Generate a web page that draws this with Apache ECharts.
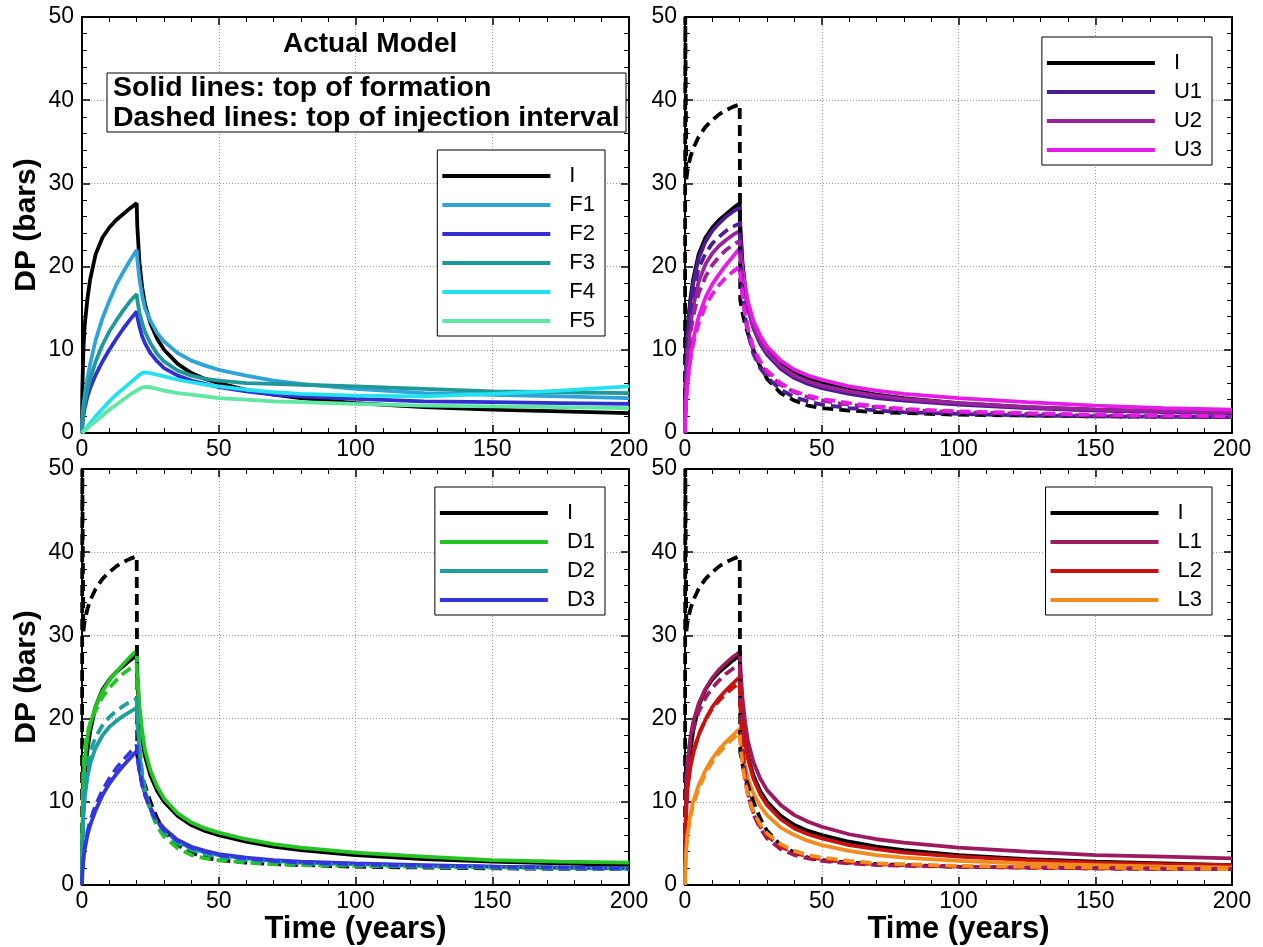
<!DOCTYPE html>
<html><head><meta charset="utf-8">
<script src="https://cdn.jsdelivr.net/npm/echarts@6/dist/echarts.min.js"></script>
<style>html,body{margin:0;padding:0;background:#fff}#c{width:1263px;height:947px}</style>
</head><body><div id="c"></div><script>
// time (years)
const T = [0,0.1,0.5,1,2,3,5,7.5,10,12.5,15,17.5,20,20.2,21,22,23,25,27.5,30,35,40,45,50,60,70,80,100,125,150,175,200];

const I_solid  = [0,5,10,13,16.2,18.5,21.5,23.5,24.7,25.6,26.3,27,27.6,25,20.5,17.5,15.5,13.2,11.3,10,8.3,7.2,6.5,6.0,5.2,4.6,4.2,3.6,3.1,2.8,2.6,2.4];
const I_dashed = [0,50,30.5,31.8,33.2,34.2,35.6,36.8,37.6,38.3,38.8,39.2,39.5,16,14.5,13,12,10,8.0,6.5,4.8,3.9,3.3,3.0,2.7,2.5,2.4,2.2,2.1,2.0,1.95,1.9];

const F1 = [0,1.5,3.2,4.5,6.6,8.3,11.2,13.8,15.9,17.8,19.3,20.7,22,21,18.5,16.5,15,13.5,12,11,9.6,8.7,8.1,7.6,6.9,6.3,5.9,5.3,4.8,4.6,4.4,4.2];
const F2 = [0,0.8,2,3,4.4,5.4,7.0,8.6,10,11.3,12.5,13.6,14.6,14,12.8,11.6,10.8,9.6,8.6,7.8,6.9,6.3,5.9,5.5,5.0,4.6,4.4,4.1,3.8,3.7,3.6,3.5];
const F3 = [0,1,2.5,3.6,5.2,6.5,8.6,10.6,12.2,13.5,14.7,15.8,16.7,16,14.5,13.2,12.2,10.8,9.5,8.6,7.5,6.9,6.5,6.3,6.0,5.9,5.8,5.6,5.3,5.0,4.9,4.8];
const F4 = [0,0.05,0.2,0.4,0.8,1.2,2.0,2.9,3.8,4.6,5.3,6.0,6.7,6.8,7.0,7.2,7.3,7.2,7.0,6.8,6.4,6.1,5.8,5.6,5.2,4.9,4.7,4.5,4.4,4.7,5.1,5.6];
const F5 = [0,0.03,0.15,0.3,0.6,0.9,1.4,2.1,2.8,3.4,4.0,4.6,5.1,5.15,5.3,5.45,5.55,5.5,5.3,5.1,4.8,4.6,4.4,4.2,4.0,3.8,3.7,3.5,3.3,3.2,3.1,3.0];

const U1_solid  = [0,4.5,9.5,12.5,15.8,18,21,23,24.3,25.2,26,26.6,27.1,24.5,20,17,15,12.6,10.7,9.4,7.7,6.6,5.9,5.4,4.7,4.2,3.9,3.4,3.0,2.7,2.5,2.4];
const U1_dashed = [0,4,9,12,15,17,19.8,21.6,22.8,23.6,24.3,24.8,25.2,22,17,14,12,9.5,7.8,6.7,5.2,4.3,3.8,3.4,3.0,2.7,2.5,2.3,2.1,2.0,1.95,1.9];
const U2_solid  = [0,3,7.5,10,13,15.2,18.2,20.3,21.6,22.5,23.2,23.8,24.3,22.5,19.5,17,15.2,12.8,11,9.7,8.0,6.9,6.2,5.7,5.0,4.5,4.1,3.6,3.1,2.8,2.6,2.5];
const U2_dashed = [0,2.5,6.5,9,12,14,16.8,18.8,20.2,21.2,22,22.6,23.1,21,17.5,14.5,12.5,10,8.3,7.2,5.8,4.9,4.3,3.9,3.4,3.1,2.8,2.5,2.3,2.1,2.0,1.95];
const U3_solid  = [0,1.5,4.5,6.5,9.2,11.2,14,16.3,17.9,19.1,20.2,21.2,22.2,21.5,19.5,17.5,15.8,13.5,11.7,10.4,8.7,7.6,6.9,6.4,5.6,5.1,4.7,4.2,3.7,3.3,3.0,2.8];
const U3_dashed = [0,1.5,4.3,6.2,8.8,10.7,13.2,15.3,16.7,17.8,18.7,19.4,20,19,16.5,14.2,12.5,10.2,8.6,7.5,6.0,5.0,4.5,4.1,3.6,3.2,2.9,2.6,2.4,2.2,2.1,2.0];

const D1_solid  = [0,6,12,15,17.8,19.3,21.5,23.3,24.6,25.6,26.5,27.4,28.2,26,21.5,18.5,16.3,13.8,11.8,10.4,8.6,7.5,6.8,6.3,5.5,4.9,4.5,3.9,3.4,3.0,2.8,2.7];
const D1_dashed = [0,8,14,16.5,18.3,19.5,21.0,22.6,23.7,24.6,25.4,26,26.6,23,17,13.5,11.5,9,7,5.8,4.4,3.6,3.2,3.0,2.7,2.5,2.4,2.3,2.2,2.1,2.0,2.0];
const D2_solid  = [0,3.5,8,10.5,13,14.6,16.5,18,19,19.7,20.3,20.8,21.3,19.5,16,13,11.3,9.2,7.6,6.6,5.2,4.4,3.9,3.6,3.2,2.9,2.7,2.5,2.3,2.2,2.1,2.0];
const D2_dashed = [0,4.5,9.5,12,14.5,16,17.8,19.2,20.2,20.9,21.5,22,22.4,20,16,13,11.2,9.0,7.4,6.3,5.0,4.2,3.7,3.4,3.0,2.8,2.6,2.4,2.2,2.1,2.0,1.9];
const D3_solid  = [0,1.2,3,4.3,6,7.2,9,10.8,12.2,13.3,14.3,15.2,16.1,15.5,13.8,12.2,11,9.3,7.8,6.8,5.4,4.6,4.1,3.7,3.3,3.0,2.8,2.6,2.4,2.2,2.1,2.0];
const D3_dashed = [0,1.3,3.2,4.6,6.4,7.7,9.6,11.4,12.8,14,15,15.9,16.8,15.8,13.6,12,10.8,9.1,7.6,6.6,5.3,4.5,4.0,3.6,3.2,2.9,2.7,2.5,2.3,2.2,2.1,2.0];

const L1_solid  = [0,6,12,14.8,17.8,19.6,21.8,23.6,24.9,25.9,26.7,27.4,28,26.5,22.5,19.5,17.3,14.8,12.8,11.4,9.6,8.4,7.6,7.0,6.1,5.5,5.1,4.5,4.0,3.6,3.4,3.2];
const L1_dashed = [0,7,13,15.5,17.5,18.8,20.8,22.5,23.7,24.6,25.4,26,26.5,23,17,13,10.8,8.5,6.8,5.6,4.3,3.6,3.2,2.9,2.6,2.4,2.3,2.2,2.1,2.0,1.95,1.9];
const L2_solid  = [0,4.5,9.5,11.8,14.2,15.8,18,19.9,21.4,22.5,23.4,24.2,25,23.5,20,17.2,15.2,12.8,10.9,9.6,7.9,6.8,6.1,5.6,4.8,4.3,3.9,3.4,3.0,2.7,2.5,2.4];
const L2_dashed = [0,5,10,12.2,14.5,16,18.1,19.9,21.2,22.2,23,23.7,24.3,21.5,16.5,13,11,8.7,7,5.9,4.6,3.9,3.4,3.1,2.7,2.5,2.4,2.2,2.1,2.0,1.95,1.9];
const L3_solid  = [0,2,4.8,6.5,8.6,10,12,13.8,15.2,16.3,17.2,18,18.8,18,16,14.2,12.8,11,9.5,8.4,6.9,6.0,5.3,4.8,4.1,3.6,3.3,2.9,2.6,2.4,2.2,2.1];
const L3_dashed = [0,2,4.6,6.2,8.2,9.6,11.6,13.4,14.8,15.9,16.8,17.6,18.3,17,14.5,12.3,10.8,8.8,7.3,6.2,4.9,4.1,3.6,3.3,2.9,2.6,2.5,2.3,2.2,2.1,2.0,1.9];

const xTicks = [0,50,100,150,200];
const yTicks = [0,10,20,30,40,50];

const FONT = '"Liberation Sans", Arial, Helvetica, sans-serif';
const COL = {I:'#000000', F1:'#2ea3da', F2:'#3030d0', F3:'#1e9898', F4:'#22e2f0', F5:'#5ee8a2',
  U1:'#4d1b94', U2:'#9b229b', U3:'#e81ae8', D1:'#25c425', D2:'#1e9e9e', D3:'#3535dd',
  L1:'#9e1a60', L2:'#c81212', L3:'#f28c1e'};

const grids = [
  {left:82, top:17, width:547, height:416},
  {left:685, top:17, width:547, height:416},
  {left:82, top:469, width:547, height:416},
  {left:685, top:469, width:547, height:416}
];

function pts(arr){ return T.map((t,i)=>[t,arr[i]]); }
function ser(name, arr, key, p, dashed){
  return {type:'line', name:name, data:pts(arr), xAxisIndex:p, yAxisIndex:p,
    symbol:'none', showSymbol:false, silent:true, animation:false, clip:true,
    lineStyle:{color:COL[key], width:dashed?3.8:3.8, type:dashed?[11,6]:'solid'},
    itemStyle:{color:COL[key]}, z: dashed?3:2};
}

const series = [
  ser('I', I_solid, 'I', 0), ser('F1', F1, 'F1', 0), ser('F2', F2, 'F2', 0),
  ser('F3', F3, 'F3', 0), ser('F4', F4, 'F4', 0), ser('F5', F5, 'F5', 0),

  ser('I', I_solid, 'I', 1), ser('U1', U1_solid, 'U1', 1), ser('U2', U2_solid, 'U2', 1), ser('U3', U3_solid, 'U3', 1),
  ser('I dashed', I_dashed, 'I', 1, true), ser('U1 dashed', U1_dashed, 'U1', 1, true),
  ser('U2 dashed', U2_dashed, 'U2', 1, true), ser('U3 dashed', U3_dashed, 'U3', 1, true),

  ser('I', I_solid, 'I', 2), ser('D1', D1_solid, 'D1', 2), ser('D2', D2_solid, 'D2', 2), ser('D3', D3_solid, 'D3', 2),
  ser('I dashed', I_dashed, 'I', 2, true), ser('D1 dashed', D1_dashed, 'D1', 2, true),
  ser('D2 dashed', D2_dashed, 'D2', 2, true), ser('D3 dashed', D3_dashed, 'D3', 2, true),

  ser('I', I_solid, 'I', 3), ser('L1', L1_solid, 'L1', 3), ser('L2', L2_solid, 'L2', 3), ser('L3', L3_solid, 'L3', 3),
  ser('I dashed', I_dashed, 'I', 3, true), ser('L1 dashed', L1_dashed, 'L1', 3, true),
  ser('L2 dashed', L2_dashed, 'L2', 3, true), ser('L3 dashed', L3_dashed, 'L3', 3, true)
];

const axLine = {show:true, onZero:false, lineStyle:{color:'#000', width:2}};
const tick = {show:true, inside:true, length:8, lineStyle:{color:'#000', width:1.5}};
const minor = {show:true, splitNumber:5, length:5, lineStyle:{color:'#000', width:1}};
const split = {show:true, lineStyle:{color:'#9a9a9a', type:[1,2], width:1}};

const xAxis = [], yAxis = [];
for (let p=0;p<4;p++){
  const bottom = p>=2, left = (p%2===0);
  xAxis.push({type:'value', gridIndex:p, min:xTicks[0], max:xTicks[xTicks.length-1], interval:xTicks[1]-xTicks[0],
    position:'bottom', axisLine:axLine, axisTick:tick, minorTick:minor, splitLine:split,
    axisLabel:{show:true, fontSize:23, color:'#000', fontFamily:FONT, margin:5},
    name: bottom ? 'Time (years)' : '', nameLocation:'middle', nameGap:26,
    nameTextStyle:{fontSize:31, fontWeight:'bold', color:'#000', fontFamily:FONT}});
  yAxis.push({type:'value', gridIndex:p, min:yTicks[0], max:yTicks[yTicks.length-1], interval:yTicks[1]-yTicks[0],
    position:'left', axisLine:axLine, axisTick:tick, minorTick:minor, splitLine:split,
    axisLabel:{show:true, fontSize:23, color:'#000', fontFamily:FONT, margin:8},
    name: left ? 'DP (bars)' : '', nameLocation:'middle', nameGap:40, nameRotate:90,
    nameTextStyle:{fontSize:30, fontWeight:'bold', color:'#000', fontFamily:FONT}});
}
for (let p=0;p<4;p++){
  xAxis.push({type:'value', gridIndex:p, min:xTicks[0], max:xTicks[xTicks.length-1], interval:xTicks[1]-xTicks[0],
    position:'top', axisLine:axLine, axisTick:tick, minorTick:minor, splitLine:{show:false}, axisLabel:{show:false}});
  yAxis.push({type:'value', gridIndex:p, min:yTicks[0], max:yTicks[yTicks.length-1], interval:yTicks[1]-yTicks[0],
    position:'right', axisLine:axLine, axisTick:tick, minorTick:minor, splitLine:{show:false}, axisLabel:{show:false}});
}

const legBase = {orient:'vertical', align:'left', icon:'rect', itemWidth:108, itemHeight:4, itemGap:7,
  padding:[15,10,4,5], borderColor:'#000', borderWidth:1, backgroundColor:'#fff', selectedMode:false,
  textStyle:{fontSize:22, color:'#000', fontFamily:FONT, padding:[0,0,0,14]}};
const legend = [
  Object.assign({}, legBase, {data:['I','F1','F2','F3','F4','F5'], right:658, top:150}),
  Object.assign({}, legBase, {data:['I','U1','U2','U3'], right:51, top:37}),
  Object.assign({}, legBase, {data:['I','D1','D2','D3'], right:658, top:487}),
  Object.assign({}, legBase, {data:['I','L1','L2','L3'], right:51, top:487})
];

const graphic = [
  {type:'text', left:283, top:30, z:10, style:{text:'Actual Model', font:'bold 28px '+FONT, fill:'#000'}},
  {type:'rect', shape:{x:107, y:73, width:519, height:59}, z:10, style:{fill:'#fff', stroke:'#000', lineWidth:1}},
  {type:'text', x:113, y:88, z:11, style:{text:'Solid lines: top of formation', font:'bold 28.5px '+FONT, fill:'#000', verticalAlign:'middle'}},
  {type:'text', x:113, y:118, z:11, style:{text:'Dashed lines: top of injection interval', font:'bold 28.5px '+FONT, fill:'#000', verticalAlign:'middle'}}
];

const chart = echarts.init(document.getElementById('c'), null, {renderer:'canvas'});
chart.setOption({animation:false, backgroundColor:'#fff', grid:grids, xAxis:xAxis, yAxis:yAxis,
  legend:legend, graphic:graphic, series:series});
</script></body></html>
